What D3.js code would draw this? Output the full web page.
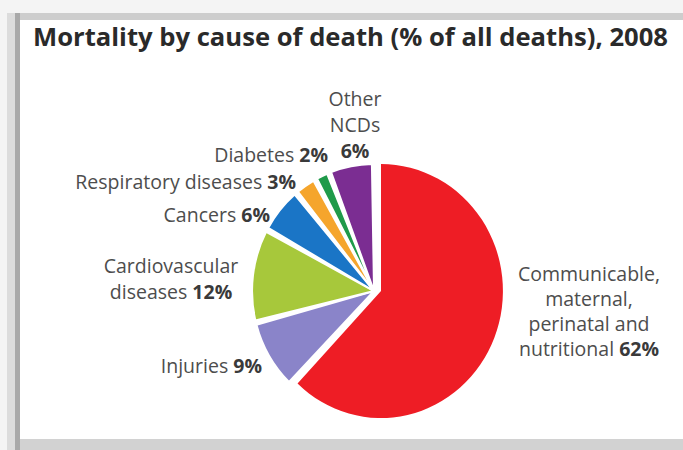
<!DOCTYPE html>
<html>
<head>
<meta charset="utf-8">
<script src="https://cdn.jsdelivr.net/npm/d3@7"></script>
<style>
  html, body { margin: 0; padding: 0; background: #f3f3f3; }
  svg { display: block; }
</style>
</head>
<body>
<svg id="chart" width="683" height="450"></svg>
<script>
// ---- data ----
const categories = ["Communicable, maternal, perinatal and nutritional", "Injuries", "Cardiovascular diseases", "Cancers", "Respiratory diseases", "Diabetes", "Other NCDs"];
const values = [62, 9, 12, 6, 3, 2, 6];
const valueLabels = ["62%", "9%", "12%", "6%", "3%", "2%", "6%"];
const colors = ["#ee1d25", "#8a84c9", "#a7c83b", "#1a75c6", "#f5a52c", "#1f9a4a", "#7b2d92"];
const title = "Mortality by cause of death (% of all deaths), 2008";

// ---- label layout (positions only) ----
const labelLayout = [
  { anchor: "middle", x: 589, y: 281, lines: ["Communicable,", "maternal,", "perinatal and", "nutritional"], inline: true },
  { anchor: "end", x: 262, y: 373, lines: ["Injuries"], inline: true },
  { anchor: "middle", x: 171, y: 273, lines: ["Cardiovascular", "diseases"], inline: true },
  { anchor: "end", x: 270, y: 222, lines: ["Cancers"], inline: true },
  { anchor: "end", x: 296, y: 189, lines: ["Respiratory diseases"], inline: true },
  { anchor: "end", x: 328, y: 162, lines: ["Diabetes"], inline: true },
  { anchor: "middle", x: 355, y: 106, lines: ["Other", "NCDs"], inline: false }
];
const lineHeight = [25, 0, 26, 0, 0, 0, 26];

const svg = d3.select("#chart");

// ---- frame ----
svg.append("rect").attr("x", 0).attr("y", 0).attr("width", 683).attr("height", 450).attr("fill", "#f4f4f4");
svg.append("rect").attr("x", 7).attr("y", 13).attr("width", 676).attr("height", 437).attr("fill", "#dcdcdc");
svg.append("rect").attr("x", 15).attr("y", 13).attr("width", 668).attr("height", 437).attr("fill", "#a9a9a9");
svg.append("rect").attr("x", 20).attr("y", 13).attr("width", 663).attr("height", 7).attr("fill", "#cdcdcd");
svg.append("rect").attr("x", 20).attr("y", 439).attr("width", 663).attr("height", 11).attr("fill", "#d2d2d2");
svg.append("rect").attr("x", 20).attr("y", 20).attr("width", 663).attr("height", 419).attr("fill", "#ffffff");

// ---- title ----
svg.append("text")
  .attr("x", 33).attr("y", 46)
  .attr("font-family", "'Open Sans', sans-serif")
  .attr("font-weight", "bold")
  .attr("font-size", 25)
  .attr("fill", "#2a2a2a")
  .attr("textLength", 635)
  .attr("lengthAdjust", "spacingAndGlyphs")
  .text(title);

// ---- pie ----
const R = 127;
const pie = d3.pie().sort(null).value(d => d)
  .startAngle(0).endAngle(2 * Math.PI);
const arcs = pie(values);
const arcMain = d3.arc().innerRadius(0).outerRadius(R);
const arcSmall = d3.arc().innerRadius(0).outerRadius(R).padAngle(0.035);

const gRed = svg.append("g").attr("transform", "translate(381,291) scale(0.96,1)");
const gRest = svg.append("g").attr("transform", "translate(374,291) scale(0.96,1)");

gRed.selectAll("path").data(arcs.slice(0, 1)).join("path")
  .attr("d", arcMain)
  .attr("fill", (d, i) => colors[i]);

gRest.selectAll("path").data(arcs.slice(1)).join("path")
  .attr("d", arcSmall)
  .attr("fill", (d, i) => colors[i + 1])
  .attr("stroke", "#ffffff")
  .attr("stroke-width", 2)
  .attr("stroke-linejoin", "round");

// ---- labels ----
const lab = svg.append("g")
  .attr("font-family", "'Open Sans', sans-serif")
  .attr("font-size", 19.5)
  .attr("fill", "#4d4d4d");

labelLayout.forEach((L, i) => {
  const t = lab.append("text").attr("text-anchor", L.anchor);
  L.lines.forEach((ln, j) => {
    const last = j === L.lines.length - 1;
    t.append("tspan").attr("x", L.x).attr("y", L.y + j * lineHeight[i]).text(ln + (last && L.inline ? " " : ""));
    if (last && L.inline) {
      t.append("tspan").attr("font-weight", "bold").attr("fill", "#3a3a3a").text(valueLabels[i]);
    }
  });
  if (!L.inline) {
    t.append("tspan").attr("x", L.x).attr("y", L.y + L.lines.length * lineHeight[i])
      .attr("font-weight", "bold").attr("fill", "#3a3a3a").text(valueLabels[i]);
  }
});
</script>
</body>
</html>
